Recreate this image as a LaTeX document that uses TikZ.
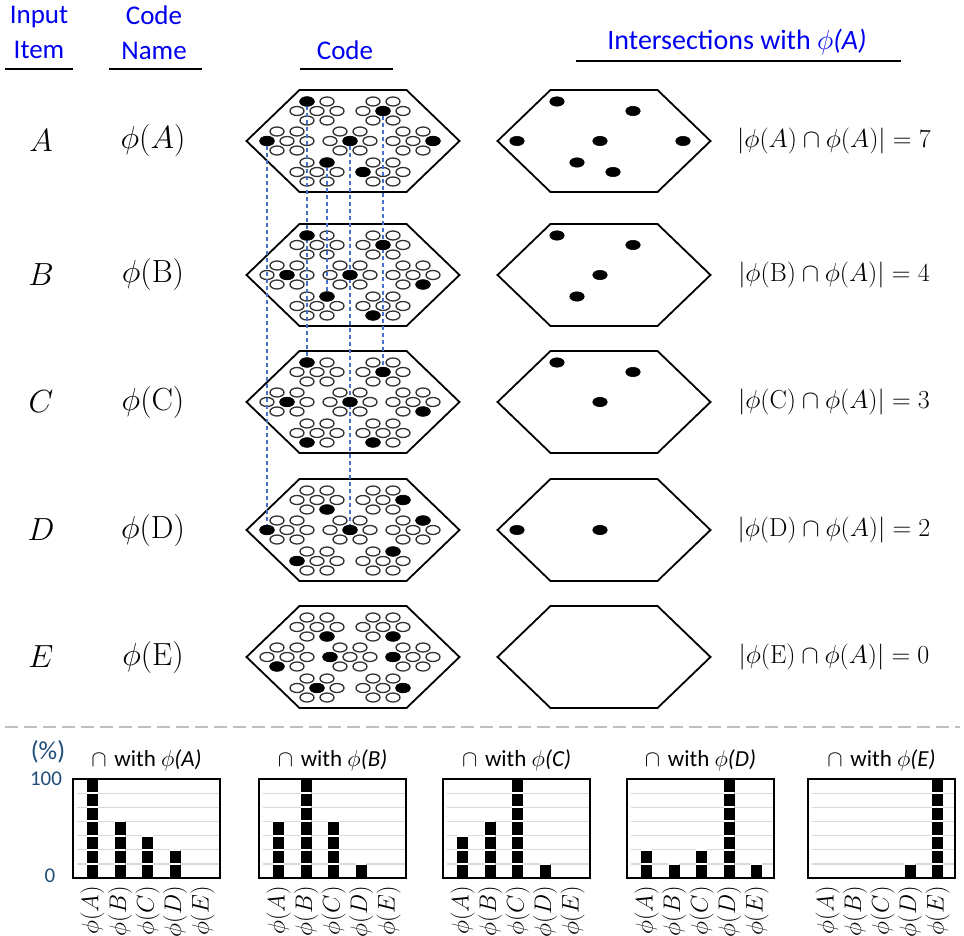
\RequirePackage{fix-cm}
\documentclass[tikz,border=0pt]{standalone}
\usepackage{fontspec}
\newfontfamily\carl{Carlito}
\usetikzlibrary{shapes.geometric}
\pgfdeclarelayer{bg}\pgfdeclarelayer{mid}
\pgfsetlayers{bg,mid,main}
\definecolor{hdrblue}{RGB}{0,0,240}
\definecolor{axblue}{RGB}{31,78,121}
\definecolor{dashblue}{RGB}{68,114,196}
\definecolor{gridgray}{RGB}{217,217,217}
\definecolor{sepgray}{RGB}{191,191,191}
\definecolor{ringgray}{RGB}{50,50,50}
\tikzset{
  hexa/.style={draw=black, line width=1.8, line join=miter},
  ring/.style={ellipse, draw=ringgray, line width=1.3, fill=white, minimum width=14, minimum height=9, inner sep=0},
  dot/.style={ellipse, draw=black, fill=black, line width=0.5, minimum width=14.5, minimum height=9.5, inner sep=0},
  link/.style={dashblue, line width=1.4, dash pattern=on 4 off 3},
  hdr/.style={text=hdrblue, font=\carl\fontsize{27}{35}\selectfont, align=center, inner sep=0},
  uline/.style={black, line width=1.8},
  mlbl/.style={font=\fontsize{32}{34}\selectfont, inner sep=0},
  ilbl/.style={font=\fontsize{26}{30}\selectfont, inner sep=0},
  ctitle/.style={font=\carl\fontsize{23}{25}\selectfont, inner sep=0},
  axlbl/.style={text=axblue, font=\carl\fontsize{21}{24}\selectfont, inner sep=0},
  rotlbl/.style={font=\fontsize{24}{26}\selectfont, rotate=90, anchor=east, inner sep=0},
  gridln/.style={gridgray, line width=1.3},
  chartbox/.style={draw=black, line width=1.8},
  sep/.style={sepgray, line width=2, dash pattern=on 13 off 6}
}
\begin{document}
\begin{tikzpicture}[x=1pt,y=-1pt]
\useasboundingbox (0,0) rectangle (964,936);
\begin{pgfonlayer}{bg}
\fill[white] (0,0) rectangle (964,936);
\end{pgfonlayer}

% headers
\node[hdr] (h1) at (39,32.5) {Input\\Item};
\node[hdr] (h2) at (154,32.5) {Code\\Name};
\node[hdr] (h3) at (345,50) {Code};
\node[hdr, font=\carl\fontsize{28}{35}\selectfont] (h4) at (737,42) {Intersections with \textit{$\phi$(A)}};
\draw[uline] (5,69) -- (73,69);
\draw[uline] (109,69) -- (202,69);
\draw[uline] (300,69) -- (393,69);
\draw[uline] (576,61) -- (901,61);

% codes
\foreach \rw/\yy/\pa/\pb/\pc/\pd/\pe/\pf/\pg in {A/141/1/4/3/4/5/2/3, B/275/1/4/4/4/7/2/6, C/402/1/4/4/4/7/6/6, D/530/7/5/3/4/2/3/2, E/657/7/7/6/3/3/4/5}{
  \begin{pgfonlayer}{bg}
    \draw[hexa] (353,\yy) ++(-106.5,0) -- ++(53,-51) -- ++(107,0) -- ++(53,51) -- ++(-53,51) -- ++(-107,0) -- cycle;
    \draw[hexa] (604,\yy) ++(-106.5,0) -- ++(53,-51) -- ++(107,0) -- ++(53,51) -- ++(-53,51) -- ++(-107,0) -- cycle;
    \foreach \cx/\cy [count=\ci] in {-33/-30,33/-30,-63/0,0/0,63/0,-33/31,33/31}{
      \foreach \ex/\ey [count=\ei] in {-10/-9.5,10/-9.5,-20/0,0/0,20/0,-10/9.5,10/9.5}{
        \node[ring] (ring\rw\ci\ei) at ({350+\cx+\ex},{\yy+\cy+\ey}) {};
      }
    }
  \end{pgfonlayer}
  \edef\fl{\pa,\pb,\pc,\pd,\pe,\pf,\pg}
  \foreach \kk [count=\ci] in \fl {
    \pgfmathsetmacro\px{{-33,33,-63,0,63,-33,33}[\ci-1]+{-10,10,-20,0,20,-10,10}[\kk-1]}
    \pgfmathsetmacro\py{{-30,-30,0,0,0,31,31}[\ci-1]+{-9.5,-9.5,0,0,0,9.5,9.5}[\kk-1]}
    \node[dot] (\rw\ci) at ({350+\px},{\yy+\py}) {};
    \pgfmathtruncatemacro\ak{{1,4,3,4,5,2,3}[\ci-1]}
    \ifnum\kk=\ak\relax
      \node[dot] (\rw\ci x) at ({600+\px},{\yy+\py}) {};
    \fi
  }
}

% row labels
\foreach \rw/\yy/\nm/\cnt in {A/141/A/7, B/275/\mathrm{B}/4, C/402/\mathrm{C}/3, D/530/\mathrm{D}/2, E/657/\mathrm{E}/0}{
  \node[mlbl] (item\rw) at (41,\yy) {$\rw$};
  \node[mlbl] (name\rw) at (153,\yy) {$\phi(\nm)$};
  \node[ilbl] (isect\rw) at (834,\yy) {$\left|\phi(\nm)\cap\phi(A)\right|=\cnt$};
}

% dashed links
\begin{pgfonlayer}{mid}
\draw[link] (A3) -- (D3);
\draw[link] (A1) -- (C1);
\draw[link] (A6) -- (B6);
\draw[link] (A4) -- (D4);
\draw[link] (A2) -- (C2);
\end{pgfonlayer}

% separator
\coordinate (sepL) at (5,727);
\coordinate (sepR) at (960,727);
\draw[sep] (sepL) -- (sepR);

% axis labels
\node[axlbl, font=\carl\fontsize{26}{28}\selectfont] (pct) at (48,752) {(\%)};
\node[axlbl] (p100) at (46,779) {100};
\node[axlbl] (p0) at (50,876) {0};

% charts
\foreach \chx/\tl/\va/\vb/\vc/\vd/\ve in {73/A/7/4/3/2/0, 259/B/4/7/4/1/0, 443/C/3/4/7/1/0, 627/D/2/1/2/7/1, 808/E/0/0/0/1/7}{
  \node[ctitle] (title\tl) at ({\chx+73.5},760) {$\cap$\,\,with \textit{$\phi$(\tl)}};
  \foreach \gu in {1,...,6}
    \draw[gridln] ({\chx+4},{878-\gu*14.14}) -- ({\chx+147},{878-\gu*14.14});
  \foreach \bv/\bl [count=\bi] in {\va/A,\vb/B,\vc/C,\vd/D,\ve/E}{
    \pgfmathsetmacro\bx{\chx+19.5+(\bi-1)*27.5}
    \ifnum\bv>0\relax
      \fill[black] ({\bx-5.5},878) rectangle ({\bx+5.5},{878-\bv*14.14});
      \begin{scope}
        \clip ({\bx-5.5},878) rectangle ({\bx+5.5},{878-\bv*14.14});
        \foreach \gu in {1,...,6}
          \draw[white, line width=2] ({\bx-6},{878-\gu*14.14}) -- ({\bx+6},{878-\gu*14.14});
      \end{scope}
    \fi
    \node[rotlbl] (lbl\tl\bl) at (\bx,886) {$\phi(\bl)$};
  }
  \draw[chartbox] (\chx,779) rectangle ({\chx+147},878);
}
\end{tikzpicture}
\end{document}
